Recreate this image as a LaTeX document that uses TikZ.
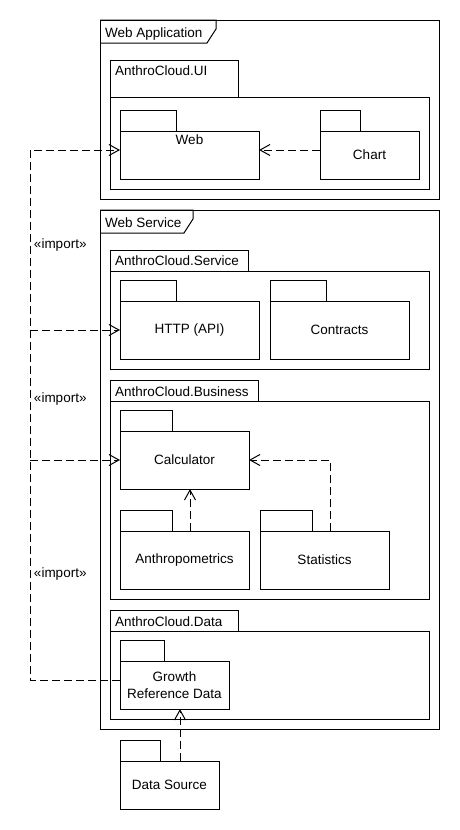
\documentclass[tikz,border=0pt]{standalone}
\usepackage{fontspec}
\setmainfont{Liberation Sans}
\usetikzlibrary{arrows.meta,calc}
\begin{document}
\begin{tikzpicture}[x=1pt,y=-1pt,line width=1pt,
  box/.style={draw,rectangle,inner sep=0pt,outer sep=0pt,anchor=north west,fill=white,
    font=\fontsize{13.5}{16.5}\selectfont,align=center},
  txt/.style={font=\fontsize{13.5}{16.5}\selectfont,inner sep=0pt,outer sep=0pt,anchor=base west},
  dep/.style={dash pattern=on 8pt off 4pt},
  tip/.style={-{Straight Barb[length=10pt,width=11pt,line join=miter]}}]
\useasboundingbox (0,0) rectangle (460,830);

% ---------- Web Application frame ----------
\node[box,minimum width=339pt,minimum height=179pt] (webapp) at (100,20) {};
\draw (webapp.north west) -- ++(116,0) -- ++(0,9) -- ++(-9,14) -- ++(-107,0);
\node[txt] (webapplbl) at (105,37.7) {Web Application};

% AnthroCloud.UI
\node[box,minimum width=128pt,minimum height=37pt] (uitab) at (110,60) {};
\node[box,minimum width=319pt,minimum height=92pt] (ui) at (110,97) {};
\node[txt] (uilbl) at (115,75.7) {AnthroCloud.UI};

\node[box,minimum width=56pt,minimum height=21pt] (webtab) at (120,110) {};
\node[box,minimum width=139pt,minimum height=48pt,
  label={[txt,anchor=north,yshift=-3.5pt]north:Web}] (web) at (120,131) {};
\node[box,minimum width=40pt,minimum height=21pt] (charttab) at (320,110) {};
\node[box,minimum width=99pt,minimum height=48pt] (chart) at (320,131) {\raisebox{-1pt}{Chart}};

% ---------- Web Service frame ----------
\node[box,minimum width=339pt,minimum height=519pt] (websvc) at (100,210) {};
\draw (websvc.north west) -- ++(93,0) -- ++(0,9) -- ++(-9,14) -- ++(-84,0);
\node[txt] (websvclbl) at (105,227.3) {Web Service};

% AnthroCloud.Service
\node[box,minimum width=138pt,minimum height=21pt] (svctab) at (110,250) {};
\node[box,minimum width=319pt,minimum height=98pt] (svc) at (110,271) {};
\node[txt] (svclbl) at (115,265.7) {AnthroCloud.Service};

\node[box,minimum width=56pt,minimum height=21pt] (httptab) at (120,280) {};
\node[box,minimum width=139pt,minimum height=58pt] (http) at (120,301) {HTTP (API)};
\node[box,minimum width=56pt,minimum height=21pt] (contab) at (270,280) {};
\node[box,minimum width=139pt,minimum height=58pt] (contracts) at (270,301) {Contracts};

% AnthroCloud.Business
\node[box,minimum width=148pt,minimum height=21pt] (bustab) at (110,380) {};
\node[box,minimum width=319pt,minimum height=198pt] (bus) at (110,401) {};
\node[txt] (buslbl) at (115,396) {AnthroCloud.Business};

\node[box,minimum width=52pt,minimum height=21pt] (calctab) at (120,410) {};
\node[box,minimum width=129pt,minimum height=58pt] (calc) at (120,431) {Calculator};
\node[box,minimum width=52pt,minimum height=21pt] (anthtab) at (120,510) {};
\node[box,minimum width=129pt,minimum height=58pt] (anth) at (120,531) {Anthropometrics};
\node[box,minimum width=52pt,minimum height=21pt] (stattab) at (260,510) {};
\node[box,minimum width=129pt,minimum height=58pt] (stat) at (260,531) {Statistics};

% AnthroCloud.Data
\node[box,minimum width=128pt,minimum height=21pt] (datatab) at (110,610) {};
\node[box,minimum width=319pt,minimum height=88pt] (data) at (110,631) {};
\node[txt] (datalbl) at (115,626) {AnthroCloud.Data};

\node[box,minimum width=44pt,minimum height=21pt] (grdtab) at (120,640) {};
\node[box,minimum width=109pt,minimum height=48pt] (grd) at (120,661) {Growth\\Reference Data};

% Data Source
\node[box,minimum width=40pt,minimum height=21pt] (dstab) at (120,740) {};
\node[box,minimum width=99pt,minimum height=48pt] (ds) at (120,761) {Data Source};

% ---------- connectors ----------
\coordinate (webin) at ($(web.north west)+(0,19)$);
\coordinate (webout) at ($(web.north east)+(0,19)$);
\coordinate (chartout) at ($(chart.north west)+(0,19)$);
\coordinate (grdout) at ($(grd.north west)+(0,19)$);
\coordinate (bustop) at ($(webin)+(-90,0)$);
\coordinate (busbot) at ($(grdout)+(-90,0)$);

\draw[dep,tip] (chartout) -- (webout);
\draw[dep,tip] (grdout) -- (busbot) -- (bustop) -- (webin);
\draw[dep,tip] (bustop |- http.west) -- (http.west);
\draw[dep,tip] (bustop |- calc.west) -- (calc.west);

\coordinate (anthout) at ($(anth.north west)+(70,0)$);
\draw[dep,tip] (anthout) -- (anthout |- calc.south);
\coordinate (statout) at ($(stat.north west)+(70,0)$);
\draw[dep,tip] (statout) |- (calc.east);
\coordinate (dsout) at ($(ds.north west)+(60,0)$);
\draw[dep,tip] (dsout) -- (dsout |- grd.south);

\node[txt] (imp1) at (34,248.3) {«import»};
\node[txt] (imp2) at (34,402.7) {«import»};
\node[txt] (imp3) at (34,577.7) {«import»};
\end{tikzpicture}
\end{document}
